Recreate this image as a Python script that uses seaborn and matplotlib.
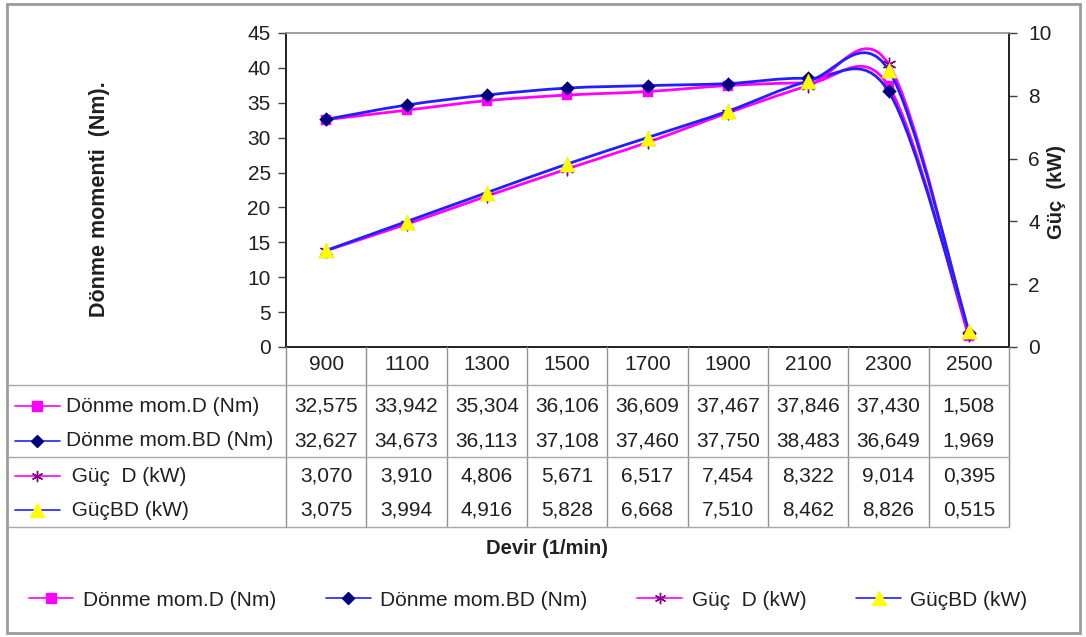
import numpy as np
import matplotlib
matplotlib.use("Agg")
import matplotlib.pyplot as plt
import matplotlib.transforms as mtrans
from matplotlib.path import Path
from matplotlib.patches import PathPatch, Rectangle
from matplotlib.lines import Line2D
import seaborn as sns

# data
rpm = [900, 1100, 1300, 1500, 1700, 1900, 2100, 2300, 2500]
torque_d = [32.575, 33.942, 35.304, 36.106, 36.609, 37.467, 37.846, 37.430, 1.508]
torque_bd = [32.627, 34.673, 36.113, 37.108, 37.460, 37.750, 38.483, 36.649, 1.969]
power_d = [3.070, 3.910, 4.806, 5.671, 6.517, 7.454, 8.322, 9.014, 0.395]
power_bd = [3.075, 3.994, 4.916, 5.828, 6.668, 7.510, 8.462, 8.826, 0.515]

names = ["Dönme mom.D (Nm)", "Dönme mom.BD (Nm)", "Güç  D (kW)", "GüçBD (kW)"]
row_names = ["Dönme mom.D (Nm)", "Dönme mom.BD (Nm)", " Güç  D (kW)", " GüçBD (kW)"]

sns.set_style("white")
plt.rcParams['font.family'] = ['Liberation Sans', 'DejaVu Sans']

W, H = 1086, 637
fig = plt.figure(figsize=(W / 100, H / 100), dpi=100)
px = mtrans.Affine2D().scale(1 / W, -1 / H).translate(0, 1) + fig.transFigure


def fx(x):
    return x / W


def fy(y):
    return 1 - y / H


ax = fig.add_axes([fx(286), fy(347), fx(1009) - fx(286), fy(33) - fy(347)])
ax2 = ax.twinx()

MAG = "#FF00FF"
BLUE = "#2020FF"
TXT = "#202020"
FS = 15
styles = [
    dict(line=MAG, marker="s", mc=MAG, ms=7.5),
    dict(line=BLUE, marker="D", mc="#000080", ms=7),
    dict(line=MAG, marker=(6, 2, 0), mc="#800080", ms=9),
    dict(line=BLUE, marker="^", mc="#FFFF00", ms=11),
]


def smooth_path(xs, ys):
    # excel-like smoothed line (bezier through the points)
    pts = np.column_stack([xs, ys]).astype(float)
    n = len(pts)
    verts = [pts[0]]
    codes = [Path.MOVETO]
    for i in range(n - 1):
        p0 = pts[i - 1] if i > 0 else pts[i]
        p1 = pts[i]
        p2 = pts[i + 1]
        p3 = pts[i + 2] if i + 2 < n else pts[i + 1]
        verts += [p1 + (p2 - p0) / 6, p2 - (p3 - p1) / 6, p2]
        codes += [Path.CURVE4] * 3
    return Path(verts, codes)


idx = np.arange(len(rpm))
series = [(ax, torque_d), (ax, torque_bd), (ax2, power_d), (ax2, power_bd)]
for k, ((a, vals), st) in enumerate(zip(series, styles)):
    a.add_patch(PathPatch(smooth_path(idx, vals), facecolor="none",
                          edgecolor=st["line"], lw=2, zorder=2 + k))
    ec = st["mc"] if st["marker"] != "^" else "#E0E000"
    sns.scatterplot(x=idx, y=vals, ax=a, marker=st["marker"], color=st["mc"],
                    s=st["ms"] ** 2, edgecolor=ec, linewidth=1 if k == 2 else 0.3,
                    zorder=2.5 + k)

ax.set_xlim(-0.5, len(rpm) - 0.5)
ax.set_ylim(0, 45)
ax.set_yticks(range(0, 46, 5))
ax2.set_ylim(0, 10)
ax2.set_yticks(range(0, 11, 2))
ax.set_xticks(idx)
ax.set_xticklabels([str(r) for r in rpm])
ax.tick_params(axis="x", length=0, pad=6, labelsize=FS, labelcolor=TXT)
ax.tick_params(axis="y", left=True, length=6, width=1, color="#404040",
               labelsize=FS, pad=5, labelcolor=TXT)
ax2.tick_params(axis="y", right=True, length=6, width=1, color="#404040",
                labelsize=FS, pad=8, labelcolor=TXT)
ax.set_xlabel("")
ax.set_ylabel("")
ax2.set_ylabel("")
for a in (ax, ax2):
    for s in a.spines.values():
        s.set_color("#202020")
        s.set_linewidth(1.2)
    a.spines["top"].set_color("#A0A0A0")
    a.grid(False)

# data table under the plot
blend = mtrans.blended_transform_factory(ax.transData, px)
for k in range(len(rpm) + 1):
    fig.add_artist(Line2D([k - 0.5, k - 0.5], [347, 527], transform=blend,
                          color="#909090", lw=1))
for y in (385, 457, 527):
    fig.add_artist(Line2D([7, 1009], [y, y], transform=px, color="#A8A8A8", lw=1))

row_y = [406, 441, 476, 510]
table_vals = [torque_d, torque_bd, power_d, power_bd]
for vals, y in zip(table_vals, row_y):
    for i, v in enumerate(vals):
        fig.text(i, y, f"{v:.3f}".replace(".", ","), transform=blend,
                 ha="center", va="center", fontsize=FS, color=TXT)

for name, st, y in zip(row_names, styles, row_y):
    fig.add_artist(Line2D([15, 60], [y, y], transform=px, color=st["line"], lw=1.2))
    fig.add_artist(Line2D([37], [y], transform=px, marker=st["marker"],
                          color=st["mc"], markersize=st["ms"] * 0.9,
                          markeredgecolor=st["mc"], lw=0))
    fig.text(66, y, name, transform=px, ha="left", va="center", fontsize=FS,
             color=TXT)

# axis titles
fig.text(100, 199, "Dönme momenti  (Nm).", transform=px, rotation=90,
         ha="center", va="center", fontsize=15.5, fontweight="bold", color=TXT)
fig.text(1057, 192, "Güç  (kW)", transform=px, rotation=90,
         ha="center", va="center", fontsize=14.5, fontweight="bold", color=TXT)
fig.text(547, 548, "Devir (1/min)", transform=px, ha="center", va="center",
         fontsize=14.5, fontweight="bold", color=TXT)

handles = [Line2D([], [], color=st["line"], lw=1.2, marker=st["marker"],
                  markerfacecolor=st["mc"], markeredgecolor=st["mc"],
                  markersize=st["ms"] * 0.9) for st in styles]
fig.legend(handles, names, loc="center", bbox_to_anchor=(fx(528), fy(600)),
           ncol=4, frameon=False, fontsize=FS, handlelength=2.15,
           handletextpad=0.45, columnspacing=2.4, labelcolor=TXT)

fig.add_artist(Rectangle((fx(7), fy(633)), fx(1080) - fx(7), fy(4) - fy(633),
                         transform=fig.transFigure, fill=False,
                         edgecolor="#9C9C9C", lw=2))

fig.savefig("out.png", dpi=100)
